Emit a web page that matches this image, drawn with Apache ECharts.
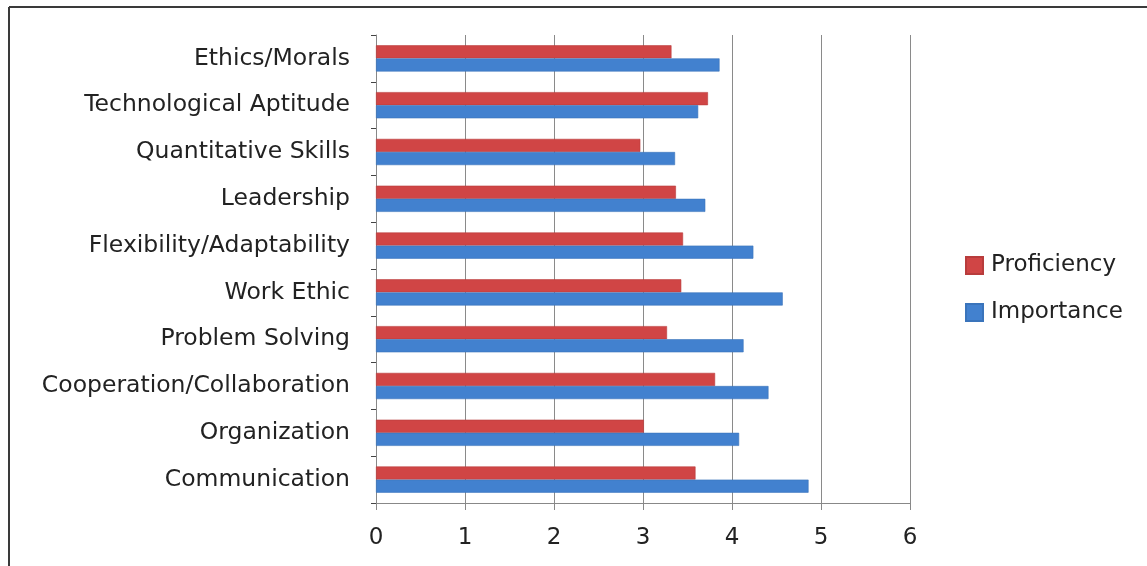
<!DOCTYPE html>
<html>
<head>
<meta charset="utf-8">
<script src="https://cdn.jsdelivr.net/npm/echarts@6/dist/echarts.min.js"></script>
<style>
  html, body { margin: 0; padding: 0; background: #fff; }
  #chart { width: 1147px; height: 566px; }
</style>
</head>
<body>
<div id="chart"></div>
<script>
// Skill categories, listed bottom to top
const categories = [
  'Communication',
  'Organization',
  'Cooperation/Collaboration',
  'Problem Solving',
  'Work Ethic',
  'Flexibility/Adaptability',
  'Leadership',
  'Quantitative Skills',
  'Technological Aptitude',
  'Ethics/Morals'
];
const proficiency = [3.59, 3.01, 3.81, 3.27, 3.43, 3.45, 3.37, 2.97, 3.73, 3.32];
const importance  = [4.86, 4.08, 4.41, 4.13, 4.57, 4.24, 3.70, 3.36, 3.62, 3.86];
const xTicks = [0, 1, 2, 3, 4, 5, 6];

const FONT = 'DejaVu Sans';
const chart = echarts.init(document.getElementById('chart'), null, { renderer: 'canvas' });

chart.setOption({
  animation: false,
  backgroundColor: '#ffffff',
  textStyle: { fontFamily: FONT },
  graphic: [
    { type: 'line', shape: { x1: 9, y1: 7, x2: 1147, y2: 7 }, style: { stroke: '#3a3a3a', lineWidth: 2 } },
    { type: 'line', shape: { x1: 9, y1: 7, x2: 9, y2: 566 }, style: { stroke: '#3a3a3a', lineWidth: 2 } }
  ],
  legend: {
    orient: 'vertical',
    left: 960,
    top: 249,
    icon: 'rect',
    itemWidth: 17,
    itemHeight: 17,
    itemGap: 24,
    data: ['Proficiency', 'Importance'],
    textStyle: { fontFamily: FONT, fontSize: 23, color: '#222', padding: [0, 0, 0, 3] }
  },
  grid: { left: 376, right: 237, top: 35, bottom: 63, containLabel: false },
  xAxis: {
    type: 'value',
    min: xTicks[0],
    max: xTicks[xTicks.length - 1],
    interval: 1,
    axisLine: { show: true, lineStyle: { color: '#888', width: 1 } },
    axisTick: { show: true, length: 7, lineStyle: { color: '#888' } },
    splitLine: { show: true, lineStyle: { color: '#8a8a8a', width: 1 } },
    axisLabel: { fontFamily: FONT, fontSize: 23, color: '#222', margin: 24 }
  },
  yAxis: {
    type: 'category',
    data: categories,
    axisLine: { show: true, lineStyle: { color: '#888', width: 1 } },
    axisTick: { show: true, length: 5, lineStyle: { color: '#444' } },
    axisLabel: { fontFamily: FONT, fontSize: 23.5, color: '#222', margin: 26, padding: [6, 0, 0, 0] }
  },
  series: [
    {
      name: 'Proficiency',
      type: 'bar',
      data: proficiency,
      barGap: '0%',
      barCategoryGap: '44%',
      itemStyle: { color: '#d04545', borderColor: '#b83c3c', borderWidth: 0.6 }
    },
    {
      name: 'Importance',
      type: 'bar',
      data: importance,
      barGap: '0%',
      barCategoryGap: '44%',
      itemStyle: { color: '#4281cf', borderColor: '#3a74bb', borderWidth: 0.6 }
    }
  ]
});
</script>
</body>
</html>
